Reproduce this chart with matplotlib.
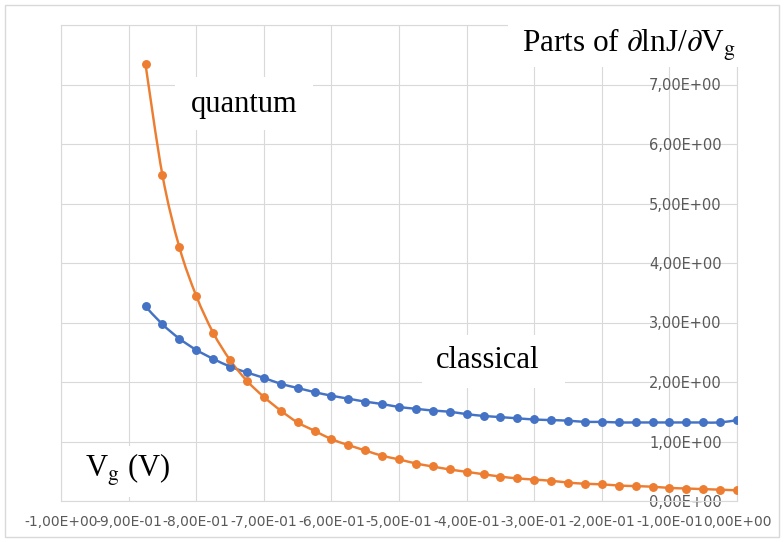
import matplotlib
matplotlib.use('Agg')
import numpy as np
import matplotlib.pyplot as plt
from matplotlib.path import Path
from matplotlib.patches import PathPatch, Rectangle

# gate voltage (V)
vg = [-0.875, -0.85, -0.825, -0.8, -0.775, -0.75, -0.725, -0.7, -0.675,
      -0.65, -0.625, -0.6, -0.575, -0.55, -0.525, -0.5, -0.475, -0.45,
      -0.425, -0.4, -0.375, -0.35, -0.325, -0.3, -0.275, -0.25, -0.225,
      -0.2, -0.175, -0.15, -0.125, -0.1, -0.075, -0.05, -0.025, 0.0]

quantum = [7.34, 5.48, 4.27, 3.45, 2.83, 2.37, 2.02, 1.75, 1.52, 1.32,
           1.18, 1.04, 0.94, 0.85, 0.76, 0.70, 0.63, 0.58, 0.53, 0.49,
           0.45, 0.41, 0.38, 0.36, 0.34, 0.31, 0.29, 0.28, 0.26, 0.25,
           0.24, 0.22, 0.21, 0.20, 0.19, 0.18]

classical = [3.27, 2.97, 2.73, 2.54, 2.39, 2.26, 2.16, 2.07, 1.97, 1.90,
             1.83, 1.77, 1.72, 1.67, 1.63, 1.58, 1.55, 1.52, 1.50, 1.46,
             1.43, 1.41, 1.39, 1.37, 1.36, 1.35, 1.33, 1.33, 1.32, 1.32,
             1.32, 1.32, 1.32, 1.32, 1.32, 1.36]

xticks = [-1.0, -0.9, -0.8, -0.7, -0.6, -0.5, -0.4, -0.3, -0.2, -0.1, 0.0]
xlabels = ['-1,00E+00', '-9,00E-01', '-8,00E-01', '-7,00E-01', '-6,00E-01',
           '-5,00E-01', '-4,00E-01', '-3,00E-01', '-2,00E-01', '-1,00E-01',
           '0,00E+00']
yticks = [0, 1, 2, 3, 4, 5, 6, 7, 8]
ylabels = ['0,00E+00', '1,00E+00', '2,00E+00', '3,00E+00', '4,00E+00',
           '5,00E+00', '6,00E+00', '7,00E+00', '']

BLUE = '#4472C4'
ORANGE = '#ED7D31'
GRID = '#D9D9D9'

plt.rcParams['mathtext.fontset'] = 'stix'


def smooth_path(x, y):
    # excel-like smoothed line: bezier segments through the data points
    x = np.asarray(x, float)
    y = np.asarray(y, float)
    n = len(x)
    verts = [(x[0], y[0])]
    codes = [Path.MOVETO]
    for i in range(n - 1):
        i0 = max(i - 1, 0)
        i3 = min(i + 2, n - 1)
        c1 = (x[i] + (x[i + 1] - x[i0]) / 6, y[i] + (y[i + 1] - y[i0]) / 6)
        c2 = (x[i + 1] - (x[i3] - x[i]) / 6, y[i + 1] - (y[i3] - y[i]) / 6)
        verts += [c1, c2, (x[i + 1], y[i + 1])]
        codes += [Path.CURVE4] * 3
    return Path(verts, codes)


W, H = 784, 542
fig = plt.figure(figsize=(W / 100, H / 100), dpi=100)
ax = fig.add_axes([61 / W, 1 - 501 / H, (737 - 61) / W, (501 - 25) / H])

for ys, c in [(classical, BLUE), (quantum, ORANGE)]:
    ax.add_patch(PathPatch(smooth_path(vg, ys), facecolor='none',
                           edgecolor=c, lw=1.75, zorder=3))
    ax.plot(vg, ys, ls='none', marker='o', ms=5.4, color=c, zorder=4)

ax.set_xlim(-1, 0)
ax.set_ylim(0, 8)
ax.set_xticks(xticks)
ax.set_xticklabels(xlabels)
ax.set_yticks(yticks)
ax.set_yticklabels(ylabels)
ax.grid(True, color=GRID, lw=0.8)
ax.set_axisbelow(True)
for s in ax.spines.values():
    s.set_color(GRID)
    s.set_linewidth(0.8)

ax.tick_params(axis='x', length=0, pad=10, labelsize=10, labelcolor='#595959')
ax.tick_params(axis='y', left=False, right=False, labelleft=False,
               labelright=True, length=0, pad=-11, labelsize=10.5,
               labelcolor='#595959')
for lab in ax.get_yticklabels():
    lab.set_horizontalalignment('right')

# outer chart border
fig.patches.append(Rectangle((5 / W, 1 - 537 / H), 774 / W, 532 / H,
                             transform=fig.transFigure, fill=False,
                             edgecolor=GRID, lw=1, zorder=0))


def label_box(x0, y0, x1, y1):
    fig.patches.append(Rectangle((x0 / W, 1 - y1 / H), (x1 - x0) / W,
                                 (y1 - y0) / H, transform=fig.transFigure,
                                 facecolor='white', edgecolor='none',
                                 zorder=5))


label_box(175, 77, 313, 130)
label_box(422, 335, 565, 388)
label_box(70, 446, 180, 497)
label_box(508, 12, 776, 67)

serif = 'Liberation Serif'
fig.text(244 / W, 1 - 104 / H, 'quantum', family=serif, fontsize=22,
         ha='center', va='center', zorder=6)
fig.text(488 / W, 1 - 361 / H, 'classical', family=serif, fontsize=22,
         ha='center', va='center', zorder=6)
fig.text(85 / W, 1 - 470 / H, r'V$_\mathrm{g}$ (V)', family=serif,
         fontsize=22, ha='left', va='center', zorder=6)
fig.text(522 / W, 1 - 52 / H, r'Parts of $\partial$lnJ/$\partial$V$_\mathrm{g}$',
         family=serif, fontsize=22.5, ha='left', va='baseline', zorder=6)

fig.savefig('out.png', dpi=100)
